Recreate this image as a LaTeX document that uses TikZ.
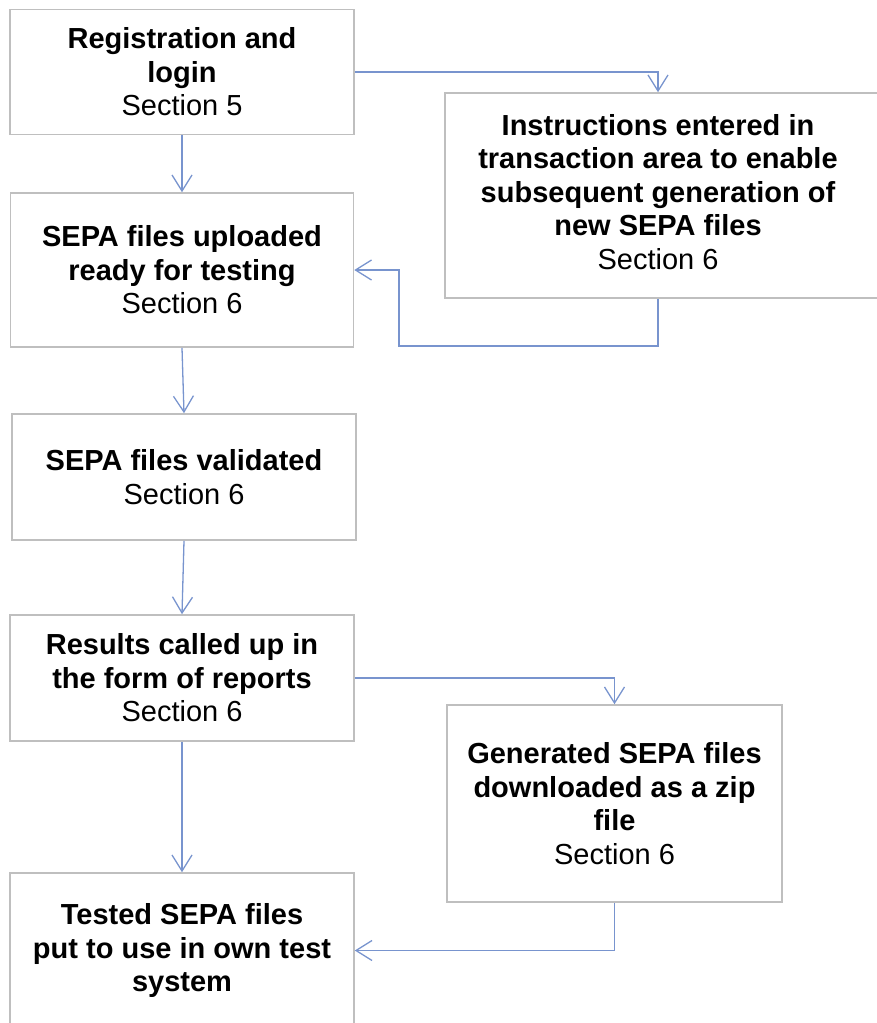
\documentclass[tikz,border=0pt]{standalone}
\usepackage{fontspec}
\setmainfont{Liberation Sans}
\usetikzlibrary{arrows.meta}
\definecolor{boxgray}{RGB}{191,191,191}
\definecolor{arrblue}{RGB}{120,148,206}
\begin{document}
\begin{tikzpicture}[x=1pt,y=-1pt,
  flowbox/.style={draw=boxgray, line width=1.6pt, fill=white, rectangle, align=center, inner sep=0pt,
    font=\fontsize{29}{33.5}\selectfont},
  flowarrow/.style={draw=arrblue, line width=1.3pt, -{Straight Barb[length=16pt,width=20pt,line width=1.3pt]}}]
\useasboundingbox (0,0) rectangle (876,1023);
\node[flowbox, minimum width=344pt, minimum height=125pt] (b1) at (182,72) {\textbf{Registration and}\\\textbf{login}\\Section 5};
\node[flowbox, minimum width=435pt, minimum height=205pt] (b2) at (662.5,195.5) {\hspace*{-9pt}\begin{tabular}{@{}c@{}}\textbf{Instructions entered in}\\\textbf{transaction area to enable}\\\textbf{subsequent generation of}\\\textbf{new SEPA files}\\Section 6\end{tabular}};
\node[flowbox, minimum width=343pt, minimum height=154pt] (b3) at (182,270) {\textbf{SEPA files uploaded}\\\textbf{ready for testing}\\Section 6};
\node[flowbox, minimum width=344pt, minimum height=126pt] (b4) at (184,477) {\textbf{SEPA files validated}\\Section 6};
\node[flowbox, minimum width=344pt, minimum height=126pt] (b5) at (182,678) {\textbf{Results called up in}\\\textbf{the form of reports}\\Section 6};
\node[flowbox, minimum width=335pt, minimum height=197pt] (b6) at (614.5,803.5) {\textbf{Generated SEPA files}\\\textbf{downloaded as a zip}\\\textbf{file}\\Section 6};
\node[flowbox, minimum width=344pt, minimum height=155pt] (b7) at (182,950.5) {\textbf{Tested SEPA files}\\\textbf{put to use in own test}\\\textbf{system}};
\coordinate (t2) at (658,0);
\coordinate (r1) at (399,346);
\draw[flowarrow] (b1.south) -- (b3.north);
\draw[flowarrow] (b1.east) -| (t2 |- b2.north);
\draw[flowarrow] (t2 |- b2.south) |- (r1) |- (b3.east);
\draw[flowarrow] (b3.south) -- (b4.north);
\draw[flowarrow] (b4.south) -- (b5.north);
\draw[flowarrow] (b5.east) -| (b6.north);
\draw[flowarrow] (b6.south) |- (b7.east);
\draw[flowarrow] (b5.south) -- (b7.north);
\end{tikzpicture}
\end{document}
